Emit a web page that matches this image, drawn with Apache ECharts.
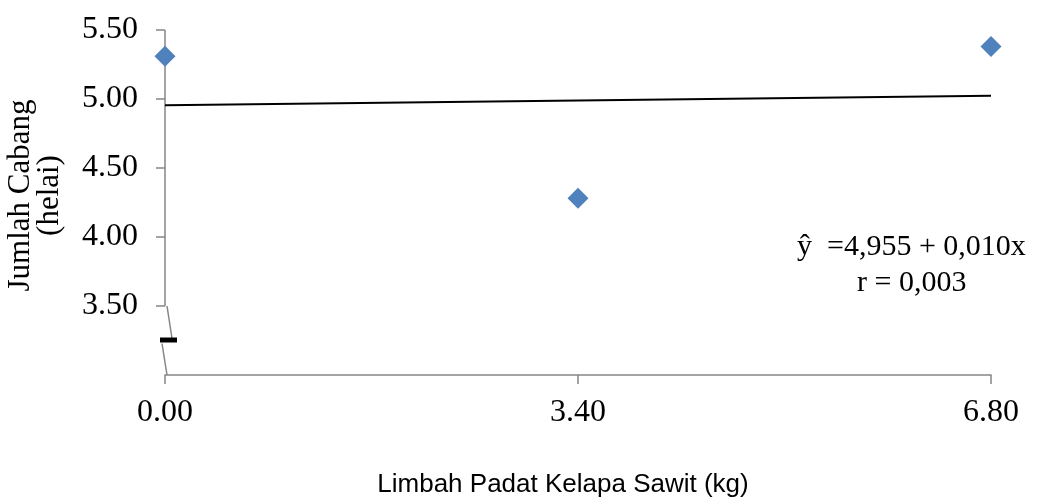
<!DOCTYPE html>
<html>
<head>
<meta charset="utf-8">
<script src="https://cdn.jsdelivr.net/npm/echarts@6/dist/echarts.min.js"></script>
<style>
html,body{margin:0;padding:0;background:#fff;}
#main{width:1041px;height:499px;}
</style>
</head>
<body>
<div id="main"></div>
<script>
const xTicks = [0, 3.4, 6.8];
const yTicks = [3.5, 4.0, 4.5, 5.0, 5.5];
const xValues = [0, 3.4, 6.8];
const yValues = [5.31, 4.28, 5.38];
const trendX = [0, 6.8];
const trendY = [4.955, 5.023];
const equationText = 'ŷ  =4,955 + 0,010x';
const rText = 'r = 0,003';
const xTitle = 'Limbah Padat Kelapa Sawit (kg)';
const yTitle = 'Jumlah Cabang\n(helai)';

const axisGrey = '#868686';
const serif = '"Liberation Serif", "DejaVu Serif", serif';

const chart = echarts.init(document.getElementById('main'), null, {renderer: 'canvas'});
const option = {
  animation: false,
  backgroundColor: '#ffffff',
  grid: {left: 165, right: 50, top: 30, bottom: 124, containLabel: false, outerBoundsMode: 'none'},
  xAxis: {
    type: 'value', min: 0, max: 6.8, interval: 3.4,
    axisLine: {show: true, lineStyle: {color: axisGrey, width: 1.5}},
    axisTick: {show: true, length: 9, lineStyle: {color: axisGrey, width: 1.5}, customValues: xTicks},
    axisLabel: {color: '#000', fontFamily: serif, fontSize: 32, margin: 22,
      customValues: xTicks, formatter: v => v.toFixed(2)},
    splitLine: {show: false},
    name: xTitle, nameLocation: 'middle', nameGap: 97,
    nameTextStyle: {color: '#000', fontFamily: '"Liberation Sans", Arial, sans-serif', fontSize: 26,
      padding: [0, 30, 0, 0]}
  },
  yAxis: {
    type: 'value', min: 3.0, max: 5.5, interval: 0.5,
    axisLine: {show: false},
    axisTick: {show: true, length: 9, lineStyle: {color: axisGrey, width: 1.5}, customValues: yTicks},
    axisLabel: {color: '#000', fontFamily: serif, fontSize: 32, margin: 27,
      customValues: yTicks, formatter: v => v.toFixed(2)},
    splitLine: {show: false},
    name: yTitle, nameLocation: 'middle', nameGap: 101, nameRotate: 90,
    nameTextStyle: {color: '#000', fontFamily: serif, fontSize: 31, lineHeight: 29, align: 'center',
      padding: [0, 0, 0, 14]}
  },
  series: [
    {
      type: 'line', data: trendX.map((x, i) => [x, trendY[i]]),
      showSymbol: false, symbol: 'none',
      lineStyle: {color: '#000', width: 2}, silent: true, z: 2
    },
    {
      type: 'scatter', data: xValues.map((x, i) => [x, yValues[i]]),
      symbol: 'diamond', symbolSize: [21, 21],
      itemStyle: {color: '#4F81BD', opacity: 1}, z: 3
    }
  ]
};
chart.setOption(option);

// y axis line with break glyph, positioned through the axis scale
const pTop = chart.convertToPixel({xAxisIndex: 0, yAxisIndex: 0}, [0, 5.5]);
const pBrk = chart.convertToPixel({xAxisIndex: 0, yAxisIndex: 0}, [0, 3.5]);
const pBot = chart.convertToPixel({xAxisIndex: 0, yAxisIndex: 0}, [0, 3.0]);
const ax = pTop[0];
const midY = (pBrk[1] + pBot[1]) / 2;
chart.setOption({
  graphic: [
    {type: 'line', shape: {x1: ax, y1: pTop[1], x2: ax, y2: pBrk[1]},
      style: {stroke: axisGrey, lineWidth: 1.5}, z: 1},
    {type: 'line', shape: {x1: ax + 2, y1: pBrk[1], x2: ax + 7, y2: midY - 2},
      style: {stroke: axisGrey, lineWidth: 1.5}, z: 1},
    {type: 'rect', shape: {x: ax - 5, y: midY - 3, width: 17, height: 5},
      style: {fill: '#000'}, z: 5},
    {type: 'line', shape: {x1: ax - 3, y1: midY + 3, x2: ax + 2, y2: pBot[1]},
      style: {stroke: axisGrey, lineWidth: 1.5}, z: 1},
    {type: 'text', left: 797, top: 232,
      style: {text: equationText, font: '30px ' + serif, fill: '#000'}},
    {type: 'text', left: 857, top: 268,
      style: {text: rText, font: '30px ' + serif, fill: '#000'}}
  ]
});
</script>
</body>
</html>
